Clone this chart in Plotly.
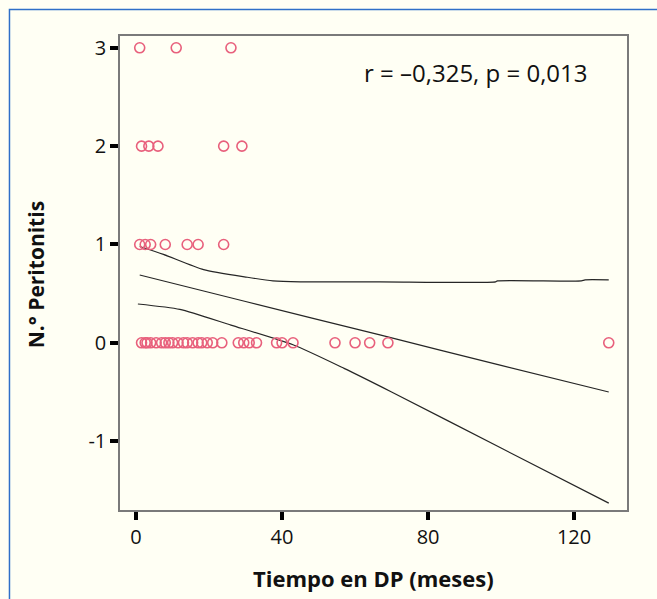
import plotly.graph_objects as go

# --- Data ---
y3_x = [1, 11, 26]
y2_x = [1.5, 3.5, 6, 24, 29]
y1_x = [1, 2.5, 4, 8, 14, 17, 24]
y0_x = [1.5, 2.5, 3, 4, 5.5, 7, 8, 9, 10, 11.5, 13, 14, 15.5, 17, 18, 19.5, 21, 23.5,
        28, 29.5, 31, 33, 38.5, 40, 43, 54.5, 60, 64, 69, 129.5]

upper_x = [1, 7.5, 18.5, 30.5, 37.5, 45, 66.8, 98.5, 99, 122, 123, 129.5]
upper_y = [0.98, 0.90, 0.745, 0.667, 0.63, 0.62, 0.62, 0.62, 0.63, 0.63, 0.64, 0.64]

mid_x = [1, 30, 66.8, 100, 129.5]
mid_y = [0.69, 0.42, 0.08, -0.23, -0.50]

lower_x = [0.5, 12, 26, 43, 57, 70, 100, 129.5]
lower_y = [0.395, 0.34, 0.18, -0.02, -0.26, -0.50, -1.07, -1.63]

x_ticks = [0, 40, 80, 120]
y_ticks = [-1, 0, 1, 2, 3]
annot_text = "r = \u20130,325, p = 0,013"
x_title = "Tiempo en DP (meses)"
y_title = "N.\u00b0 Peritonitis"

pts_x = y3_x + y2_x + y1_x + y0_x
pts_y = [3] * len(y3_x) + [2] * len(y2_x) + [1] * len(y1_x) + [0] * len(y0_x)

BG = "#fffff4"
FONT = "Open Sans"

fig = go.Figure()
for lx, ly in [(upper_x, upper_y), (mid_x, mid_y), (lower_x, lower_y)]:
    fig.add_trace(go.Scatter(x=lx, y=ly, mode="lines",
                             line=dict(color="#262626", width=1.2, shape="spline", smoothing=0.6),
                             showlegend=False, hoverinfo="skip"))
fig.add_trace(go.Scatter(x=pts_x, y=pts_y, mode="markers",
                         marker=dict(symbol="circle-open", size=10,
                                     color="#e8607c", line=dict(width=1.6)),
                         showlegend=False))

axis_common = dict(showgrid=False, zeroline=False, showline=True, mirror=True,
                   linecolor="#7a7a7a", linewidth=1.5, ticks="outside",
                   ticklen=8, tickwidth=3.5, tickcolor="#000000",
                   tickfont=dict(family=FONT, size=20, color="#111111"))

fig.update_xaxes(range=[-4.4, 134.5], tickvals=x_ticks, ticktext=[str(v) for v in x_ticks],
                 **axis_common)
fig.update_yaxes(range=[-1.70, 3.12], tickvals=y_ticks, ticktext=[str(v) for v in y_ticks],
                 **axis_common)

fig.add_annotation(x=0.477, y=0.923, xref="paper", yref="paper", xanchor="left", yanchor="middle",
                   text=annot_text, showarrow=False,
                   font=dict(family=FONT, size=24, color="#111111"))
fig.add_annotation(x=0.5, y=-0.143, xref="paper", yref="paper", xanchor="center", yanchor="middle",
                   text="<b>" + x_title + "</b>", showarrow=False,
                   font=dict(family=FONT, size=22, color="#111111"))
fig.add_annotation(x=-0.164, y=0.497, xref="paper", yref="paper", xanchor="center", yanchor="middle",
                   text="<b>" + y_title + "</b>", showarrow=False, textangle=-90,
                   font=dict(family=FONT, size=21, color="#111111"))

# blue frame around the figure (left/top visible)
fig.add_shape(type="rect", xref="paper", yref="paper", x0=-0.218, y0=-0.3, x1=1.2, y1=1.056,
              line=dict(color="#2f6fc8", width=1.5), layer="below")

fig.update_layout(width=657, height=599, margin=dict(l=120, r=30, t=36, b=89),
                  paper_bgcolor=BG, plot_bgcolor=BG)

fig.write_html("out.html")
